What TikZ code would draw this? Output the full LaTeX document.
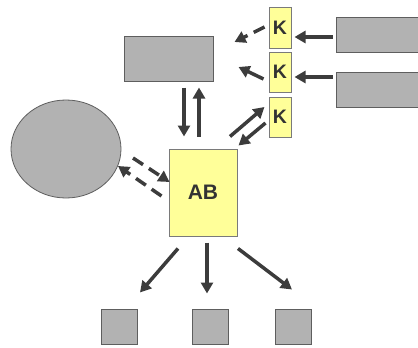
\documentclass[tikz,border=0pt]{standalone}
\usepackage{fontspec}
\setmainfont{Liberation Sans}
\usetikzlibrary{arrows.meta,calc,shapes.geometric}
\definecolor{gfill}{HTML}{B2B2B2}
\definecolor{gline}{HTML}{5E5E5E}
\definecolor{yfill}{HTML}{FFFF99}
\definecolor{yline}{HTML}{7A7A7A}
\definecolor{arrc}{HTML}{3C3C3C}
\definecolor{txt}{HTML}{333333}
\tikzset{
  gbox/.style={draw=gline, fill=gfill, line width=1pt, inner sep=0pt},
  ybox/.style={draw=yline, fill=yfill, line width=1pt, inner sep=0pt, text=txt, font=\bfseries},
  arr/.style={draw=arrc, line width=3.5pt, -{Triangle[length=11pt,width=12pt]}},
  darr/.style={arr, dash pattern=on 12pt off 7pt},
}
\begin{document}
\begin{tikzpicture}[x=1pt,y=-1pt]
\useasboundingbox (0,0) rectangle (418,348);
\clip (0,0) rectangle (418,348);
\node[gbox, minimum width=89pt, minimum height=45pt] (top) at (168.5,58.5) {};
\node[ybox, minimum width=22pt, minimum height=41pt, font=\fontsize{19.5}{19.5}\selectfont\bfseries] (k1) at (280,27.5) {K};
\node[ybox, minimum width=22pt, minimum height=40pt, font=\fontsize{19.5}{19.5}\selectfont\bfseries] (k2) at (280,72) {K};
\node[ybox, minimum width=22pt, minimum height=40pt, font=\fontsize{19.5}{19.5}\selectfont\bfseries] (k3) at (280,117) {K};
\node[gbox, minimum width=94pt, minimum height=35pt] (r1) at (383,34.5) {};
\node[gbox, minimum width=94pt, minimum height=35pt] (r2) at (383,89.5) {};
\node[ellipse, draw=gline, fill=gfill, line width=0.8pt, minimum width=110pt, minimum height=98pt, inner sep=0pt] (ell) at (66,149) {};
\node[ybox, minimum width=68pt, minimum height=87pt, font=\fontsize{21}{21}\selectfont\bfseries] (ab) at (203,192.5) {AB};
\node[gbox, minimum width=36pt, minimum height=35pt] (b1) at (119,326.5) {};
\node[gbox, minimum width=36pt, minimum height=35pt] (b2) at (210,326.5) {};
\node[gbox, minimum width=36pt, minimum height=35pt] (b3) at (293,326.5) {};
% arrows
\draw[arr] ($(r1.west)+(-3,2.5)$) -- ($(k1.east)+(3,9.5)$);
\draw[arr] ($(r2.west)+(-3,-12.5)$) -- ($(k2.east)+(3,5)$);
\draw[darr] ($(k1.west)+(-4,-0.5)$) -- ($(top.east)+(21,-16.5)$);
\draw[arr] ($(k2.west)+(-5,7)$) -- ($(top.east)+(25,8.5)$);
\draw[arr] ($(top.south)+(15.5,6)$) -- ($(ab.north)+(-19,-12)$);
\draw[arr] ($(ab.north)+(-4,-12)$) -- ($(top.south)+(30.5,6)$);
\draw[arr] ($(ab.north)+(27,-12)$) -- ($(k3.west)+(-4,-10)$);
\draw[arr] ($(k3.west)+(-3,6)$) -- ($(ab.north east)+(1,-3)$);
\draw[darr] ($(ab.west)+(-7,3.5)$) -- ($(ell.center)+(52,17)$);
\draw[darr] ($(ell.center)+(67,9)$) -- ($(ab.west)+(1,-10.5)$);
\draw[arr] ($(ab.south)+(-25,12)$) -- ($(b1.north)+(21,-16)$);
\draw[arr] ($(ab.south)+(4,6)$) -- ($(b2.north)+(-3,-15)$);
\draw[arr] ($(ab.south)+(35,12)$) -- ($(b3.north)+(-1,-19)$);
\end{tikzpicture}
\end{document}
